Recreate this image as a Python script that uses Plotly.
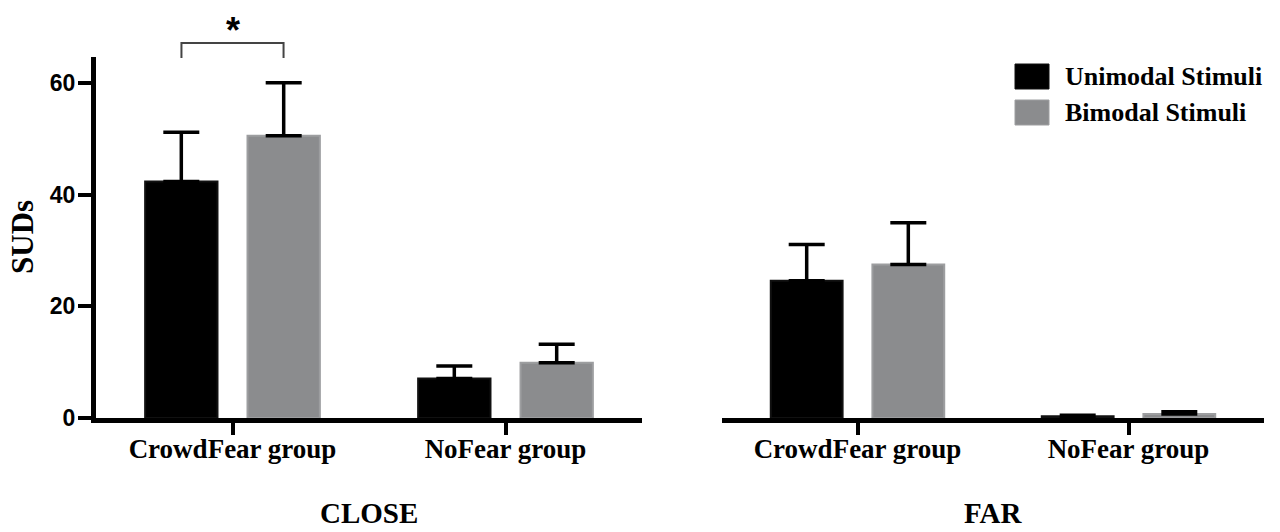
import plotly.graph_objects as go
from plotly.subplots import make_subplots

# Datos (SUDs)
grupos = ["CrowdFear group", "NoFear group"]
paneles = ["CLOSE", "FAR"]

close_uni = [42.4, 7.1]
close_uni_err = [8.8, 2.2]
close_bi = [50.6, 9.9]
close_bi_err = [9.5, 3.3]

far_uni = [24.6, 0.3]
far_uni_err = [6.5, 0.2]
far_bi = [27.5, 0.7]
far_bi_err = [7.5, 0.4]

series = ["Unimodal Stimuli", "Bimodal Stimuli"]
colores = ["#000000", "#8b8c8e"]
bordes = ["#111111", "#9d9ea0"]

y_ticks = [0, 20, 40, 60]
y_max = 64.7

serif = "Liberation Serif"
sans = "Liberation Sans"

# geometría de la figura
W, H = 1280, 532
top, bottom = 57, 418  # px del área de trazado


def py(v):
    # píxel vertical -> coordenada paper
    return (bottom - v) / (bottom - top)


fig = make_subplots(rows=1, cols=2)

datos = [
    (1, [close_uni, close_bi], [close_uni_err, close_bi_err]),
    (2, [far_uni, far_bi], [far_uni_err, far_bi_err]),
]
offsets = [-0.32, 0.055]
ancho = 0.265

for col, vals, errs in datos:
    for i in range(2):
        fig.add_trace(go.Bar(
            x=grupos, y=vals[i],
            name=series[i],
            width=ancho, offset=offsets[i],
            marker=dict(color=colores[i], line=dict(color=bordes[i], width=2)),
            error_y=dict(type="data", array=errs[i], arrayminus=[0, 0],
                         symmetric=False, color="black", thickness=3.5, width=18),
            showlegend=False,
        ), row=1, col=col)

fig.update_layout(
    width=W, height=H,
    margin=dict(l=0, r=0, t=top, b=H - bottom),
    plot_bgcolor="white", paper_bgcolor="white",
    barmode="overlay",
    xaxis=dict(domain=[96 / W, 642 / W]),
    xaxis2=dict(domain=[722 / W, 1264 / W]),
)

fig.update_xaxes(
    range=[-0.5, 1.5], showline=True, linecolor="black", linewidth=5,
    ticks="outside", ticklen=12, tickwidth=4, tickcolor="black",
    ticklabelstandoff=-9,
    showgrid=False, zeroline=False,
    tickfont=dict(family=serif, size=27, color="black", weight="bold"),
)
fig.update_yaxes(range=[0, y_max], showgrid=False, zeroline=False)
fig.update_yaxes(
    row=1, col=1, showline=True, linecolor="black", linewidth=5,
    ticks="outside", ticklen=13, tickwidth=4, tickcolor="black",
    tickvals=y_ticks, ticklabelstandoff=-2,
    tickfont=dict(family=sans, size=23, color="black", weight="bold"),
)
fig.update_yaxes(row=1, col=2, showline=False, showticklabels=False, ticks="")

# títulos de panel
for k, txt in enumerate(paneles):
    fig.add_annotation(
        text=txt, xref=f"x{'' if k == 0 else k + 1} domain", x=0.5,
        yref="paper", y=py(513), showarrow=False, yanchor="middle",
        font=dict(family=serif, size=29, color="black", weight="bold"),
    )

# título eje y
fig.add_annotation(
    text="SUDs", xref="paper", x=22 / W, xanchor="center",
    yref="paper", y=py(237), yanchor="middle",
    textangle=-90, showarrow=False,
    font=dict(family=serif, size=31, color="black", weight="bold"),
)

# corchete de significación
fig.add_shape(type="path", xref="x", yref="paper",
              path=f"M -0.187,{py(58)} L -0.187,{py(43)} L 0.187,{py(43)} L 0.187,{py(58)}",
              line=dict(color="#444444", width=2))
fig.add_annotation(text="*", xref="x", x=0, yref="paper", y=py(30),
                   showarrow=False, yanchor="middle",
                   font=dict(family=sans, size=36, color="black", weight="bold"))

# leyenda manual
for i, s in enumerate(series):
    y0 = 64 + i * 36
    fig.add_shape(type="rect", xref="paper", yref="paper",
                  x0=1015 / W, x1=1049 / W, y0=py(y0 + 25), y1=py(y0),
                  fillcolor=colores[i], line=dict(color=bordes[i], width=1))
    fig.add_annotation(text=s, xref="paper", x=1063 / W, xanchor="left",
                       yref="paper", y=py(y0 + 12.5), yanchor="middle",
                       showarrow=False,
                       font=dict(family=serif, size=26, color="black", weight="bold"))

fig.write_html("out.html", config={"displayModeBar": False},
               post_script="document.body.style.margin='0';")
